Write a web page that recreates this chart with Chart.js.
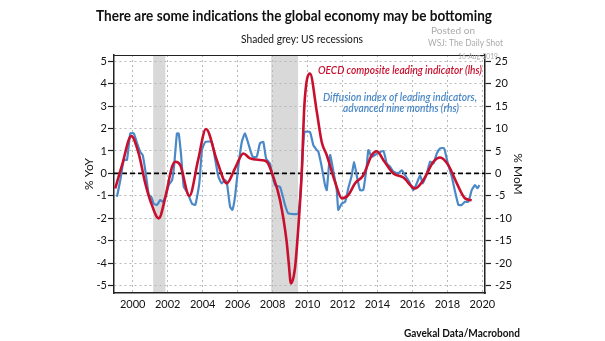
<!DOCTYPE html>
<html>
<head>
<meta charset="utf-8">
<script src="https://cdn.jsdelivr.net/npm/chart.js@4.4.1/dist/chart.umd.min.js"></script>
<style>
  html, body { margin: 0; padding: 0; background: #fff; }
  #wrap { width: 605px; height: 341px; }
</style>
</head>
<body>
<div id="wrap"><canvas id="chart" width="605" height="341"></canvas></div>
<script>
// OECD composite leading indicator, % YoY (lhs)
const oecdYears = [1999.0, 1999.39, 1999.92, 2000.34, 2000.72, 2001.06, 2001.49, 2001.87, 2002.25, 2002.44, 2002.72,
  2003.24, 2003.74, 2004.19, 2004.81, 2005.38, 2005.85, 2006.33, 2006.71, 2007.38, 2007.67, 2008.04, 2008.43,
  2008.8, 2008.92, 2009.05, 2009.28, 2009.47, 2009.67, 2009.82, 2010.14, 2010.53, 2010.81, 2011.1, 2011.57,
  2011.96, 2012.33, 2012.72, 2013.19, 2013.67, 2013.96, 2014.34, 2014.91, 2015.48, 2016.15, 2016.62, 2017.2,
  2017.58, 2018.05, 2018.54, 2019.01, 2019.39];
const oecdValues = [-0.67, 0.37, 1.66, 0.89, -0.44, -1.33, -2.0, -1.04, 0.29, 0.52, 0.37,
  -1.0, 0.59, 1.98, 0.59, -0.44, 0.22, 0.89, 0.67, 0.59, 0.52, -0.15, -1.2,
  -3.0, -3.95, -4.89, -4.22, -2.44, 0.07, 3.04, 4.44, 2.74, 1.4, 0.81, -0.37,
  -1.11, -0.96, -0.44, -0.08, 0.81, 0.99, 0.59, 0.0, -0.18, -0.67, -0.3, 0.52,
  0.71, 0.37, -0.44, -1.11, -1.19];

// Diffusion index of leading indicators, advanced nine months, % MoM (rhs)
const diffYears = [1999.1, 1999.29, 1999.49, 1999.67, 1999.86, 2000.06, 2000.25, 2000.43, 2000.57, 2000.72, 2000.92,
  2001.06, 2001.2, 2001.39, 2001.58, 2001.72, 2001.87, 2002.06, 2002.25, 2002.38, 2002.53, 2002.63, 2002.76,
  2002.92, 2003.11, 2003.39, 2003.58, 2003.81, 2003.96, 2004.15, 2004.52, 2004.71, 2004.9, 2005.09, 2005.28,
  2005.38, 2005.57, 2005.7, 2005.85, 2006.04, 2006.24, 2006.42, 2006.61, 2006.86, 2007.09, 2007.28, 2007.47,
  2007.63, 2007.85, 2008.01, 2008.14, 2008.43, 2008.71, 2008.9, 2009.47, 2009.67, 2009.82, 2010.14, 2010.33,
  2010.53, 2010.62, 2010.81, 2011.0, 2011.1, 2011.29, 2011.48, 2011.67, 2011.76, 2011.96, 2012.15, 2012.33,
  2012.53, 2012.66, 2012.81, 2013.0, 2013.19, 2013.39, 2013.48, 2013.67, 2013.96, 2014.34, 2014.53, 2014.72,
  2014.91, 2015.19, 2015.39, 2015.58, 2015.82, 2016.05, 2016.25, 2016.44, 2016.59, 2016.82, 2017.01, 2017.2,
  2017.39, 2017.58, 2017.81, 2018.0, 2018.25, 2018.44, 2018.63, 2018.82, 2019.01, 2019.2, 2019.39, 2019.58,
  2019.71, 2019.83];
const diffValues = [-5.2, -1.5, 3.0, 3.0, 8.9, 8.9, 6.7, 4.8, 4.1, 0.7, -4.8,
  -5.2, -6.7, -7.0, -5.9, -6.3, -5.2, -2.6, -1.5, 2.2, 8.9, 8.9, 4.4,
  -3.0, -4.1, -6.7, -7.0, -2.2, 5.2, 7.0, 7.0, 3.3, -0.7, -2.2, -1.5,
  -1.9, -7.4, -8.1, -5.2, 1.5, 7.0, 8.9, 6.7, 3.7, 3.7, 6.7, 7.0,
  3.3, 2.2, -0.7, -2.6, -3.0, -7.0, -8.9, -8.9, 0.4, 9.2, 9.2, 6.3,
  5.2, 4.8, 1.5, -2.6, -3.7, 4.1, 0.4, -3.7, -8.1, -6.7, -6.3, -3.3,
  -0.4, 2.6, -0.4, -3.7, -3.7, 1.8, 5.2, 3.7, 4.4, 5.0, 2.2, 1.5,
  0.4, 0.0, 0.7, -0.4, -1.9, -3.7, -2.2, -0.4, -2.2, 0.0, 2.6, 2.2,
  4.4, 5.6, 5.6, 2.6, -0.7, -4.1, -7.0, -7.0, -6.3, -6.3, -3.7, -2.6,
  -3.3, -2.6];

// US recessions (start, end)
const recessionStarts = [2001.17, 2007.92];
const recessionEnds = [2001.87, 2009.46];

// tick labels
const yearTicks = [2000, 2002, 2004, 2006, 2008, 2010, 2012, 2014, 2016, 2018, 2020];
const leftTicks = [-5, -4, -3, -2, -1, 0, 1, 2, 3, 4, 5];
const rightTicks = [-25, -20, -15, -10, -5, 0, 5, 10, 15, 20, 25];

const FONT = "Lato, 'Noto Sans', sans-serif";
const RED = '#c8102e';
const BLUE = '#4a88c7';

const toPoints = (xs, ys) => xs.map((x, i) => ({ x: x, y: ys[i] }));

// grey recession bars behind everything
const recessionPlugin = {
    id: 'recessions',
    beforeDraw(chart) {
        const { ctx, chartArea, scales } = chart;
        ctx.save();
        ctx.fillStyle = '#d9d9d9';
        recessionStarts.forEach((s, i) => {
            const x1 = scales.x.getPixelForValue(s);
            const x2 = scales.x.getPixelForValue(recessionEnds[i]);
            ctx.fillRect(x1, chartArea.top, x2 - x1, chartArea.bottom - chartArea.top);
        });
        ctx.restore();
    }
};

// black dashed zero line
const zeroLinePlugin = {
    id: 'zeroLine',
    beforeDatasetsDraw(chart) {
        const { ctx, chartArea, scales } = chart;
        const y = scales.y.getPixelForValue(0);
        ctx.save();
        ctx.strokeStyle = '#000';
        ctx.lineWidth = 1.8;
        ctx.setLineDash([5, 3]);
        ctx.beginPath();
        ctx.moveTo(chartArea.left, y);
        ctx.lineTo(chartArea.right, y);
        ctx.stroke();
        ctx.restore();
    }
};

// titles, series labels, source and watermark
const textPlugin = {
    id: 'texts',
    afterDraw(chart) {
        const { ctx, chartArea } = chart;
        ctx.save();

        // top edge of the frame
        ctx.strokeStyle = '#222';
        ctx.lineWidth = 1;
        ctx.beginPath();
        ctx.moveTo(chartArea.left, chartArea.top + 0.5);
        ctx.lineTo(chartArea.right, chartArea.top + 0.5);
        ctx.stroke();

        ctx.textAlign = 'center';
        ctx.textBaseline = 'alphabetic';

        ctx.fillStyle = '#111';
        ctx.font = 'bold 15px ' + FONT;
        ctx.fillText('There are some indications the global economy may be bottoming', 294, 21, 396);

        ctx.font = '12px ' + FONT;
        ctx.fillText('Shaded grey: US recessions', 302, 43, 122);

        ctx.fillStyle = RED;
        ctx.font = 'italic 600 10.5px ' + FONT;
        ctx.fillText('OECD composite leading indicator (lhs)', 400, 74, 164);

        ctx.fillStyle = BLUE;
        ctx.fillText('Diffusion index of leading indicators,', 400, 100.5, 154);
        ctx.fillText('advanced nine months (rhs)', 401, 111.5, 116);

        ctx.fillStyle = '#111';
        ctx.textAlign = 'right';
        ctx.font = 'bold 11px ' + FONT;
        ctx.fillText('Gavekal Data/Macrobond', 520, 337, 116);

        // watermark
        ctx.textAlign = 'left';
        ctx.fillStyle = '#ababab';
        ctx.font = '10px ' + FONT;
        ctx.fillText('Posted on', 431, 34);
        ctx.font = '8.5px ' + FONT;
        ctx.fillText('WSJ: The Daily Shot', 428, 46, 75);
        ctx.font = '8px ' + FONT;
        ctx.fillText('16-Aug-2019', 458, 59, 40);

        ctx.restore();
    }
};

const tickFont = { family: FONT, size: 11 };

new Chart(document.getElementById('chart'), {
    type: 'line',
    data: {
        datasets: [
            {
                label: 'OECD composite leading indicator (lhs)',
                data: toPoints(oecdYears, oecdValues),
                yAxisID: 'y',
                borderColor: RED,
                borderWidth: 2.6,
                pointRadius: 0,
                cubicInterpolationMode: 'monotone',
                fill: false
            },
            {
                label: 'Diffusion index of leading indicators, advanced nine months (rhs)',
                data: toPoints(diffYears, diffValues),
                yAxisID: 'y2',
                borderColor: BLUE,
                borderWidth: 2.2,
                pointRadius: 0,
                tension: 0.15,
                fill: false
            }
        ]
    },
    options: {
        responsive: false,
        animation: false,
        devicePixelRatio: 1,
        layout: { padding: { left: 78, right: 76, top: 55, bottom: 26 } },
        plugins: {
            legend: { display: false },
            title: { display: false },
            tooltip: { enabled: false }
        },
        scales: {
            x: {
                type: 'linear',
                min: 1998.93,
                max: 2020.15,
                afterBuildTicks: (scale) => { scale.ticks = yearTicks.map(v => ({ value: v })); },
                afterFit: (scale) => { scale.height = 22; },
                ticks: { font: tickFont, color: '#111', padding: 5, maxRotation: 0, autoSkip: false, callback: v => String(v) },
                grid: { color: '#b8b8b8', lineWidth: 1, drawTicks: false },
                border: { color: '#222', width: 1.5, dash: [2, 3] }
            },
            y: {
                position: 'left',
                min: -5.32,
                max: 5.27,
                afterBuildTicks: (scale) => { scale.ticks = leftTicks.map(v => ({ value: v })); },
                afterFit: (scale) => { scale.width = 36; },
                ticks: { font: tickFont, color: '#111', padding: 1 },
                grid: { color: '#b8b8b8', lineWidth: 1, tickLength: 6, tickColor: '#222', tickWidth: 1.2 },
                border: { color: '#222', width: 1.5, dash: [2, 3] },
                title: { display: true, text: '% YoY', font: { family: FONT, size: 12 }, color: '#111', padding: 4 }
            },
            y2: {
                position: 'right',
                min: -26.6,
                max: 26.35,
                afterBuildTicks: (scale) => { scale.ticks = rightTicks.map(v => ({ value: v })); },
                afterFit: (scale) => { scale.width = 44; },
                ticks: { font: tickFont, color: '#111', padding: 4 },
                grid: { drawOnChartArea: false, tickLength: 6, tickColor: '#222', tickWidth: 1.2 },
                border: { color: '#222', width: 1.5 },
                title: { display: true, text: '% MoM', font: { family: FONT, size: 12 }, color: '#111', padding: 4 }
            }
        }
    },
    plugins: [recessionPlugin, zeroLinePlugin, textPlugin]
});
</script>
</body>
</html>
